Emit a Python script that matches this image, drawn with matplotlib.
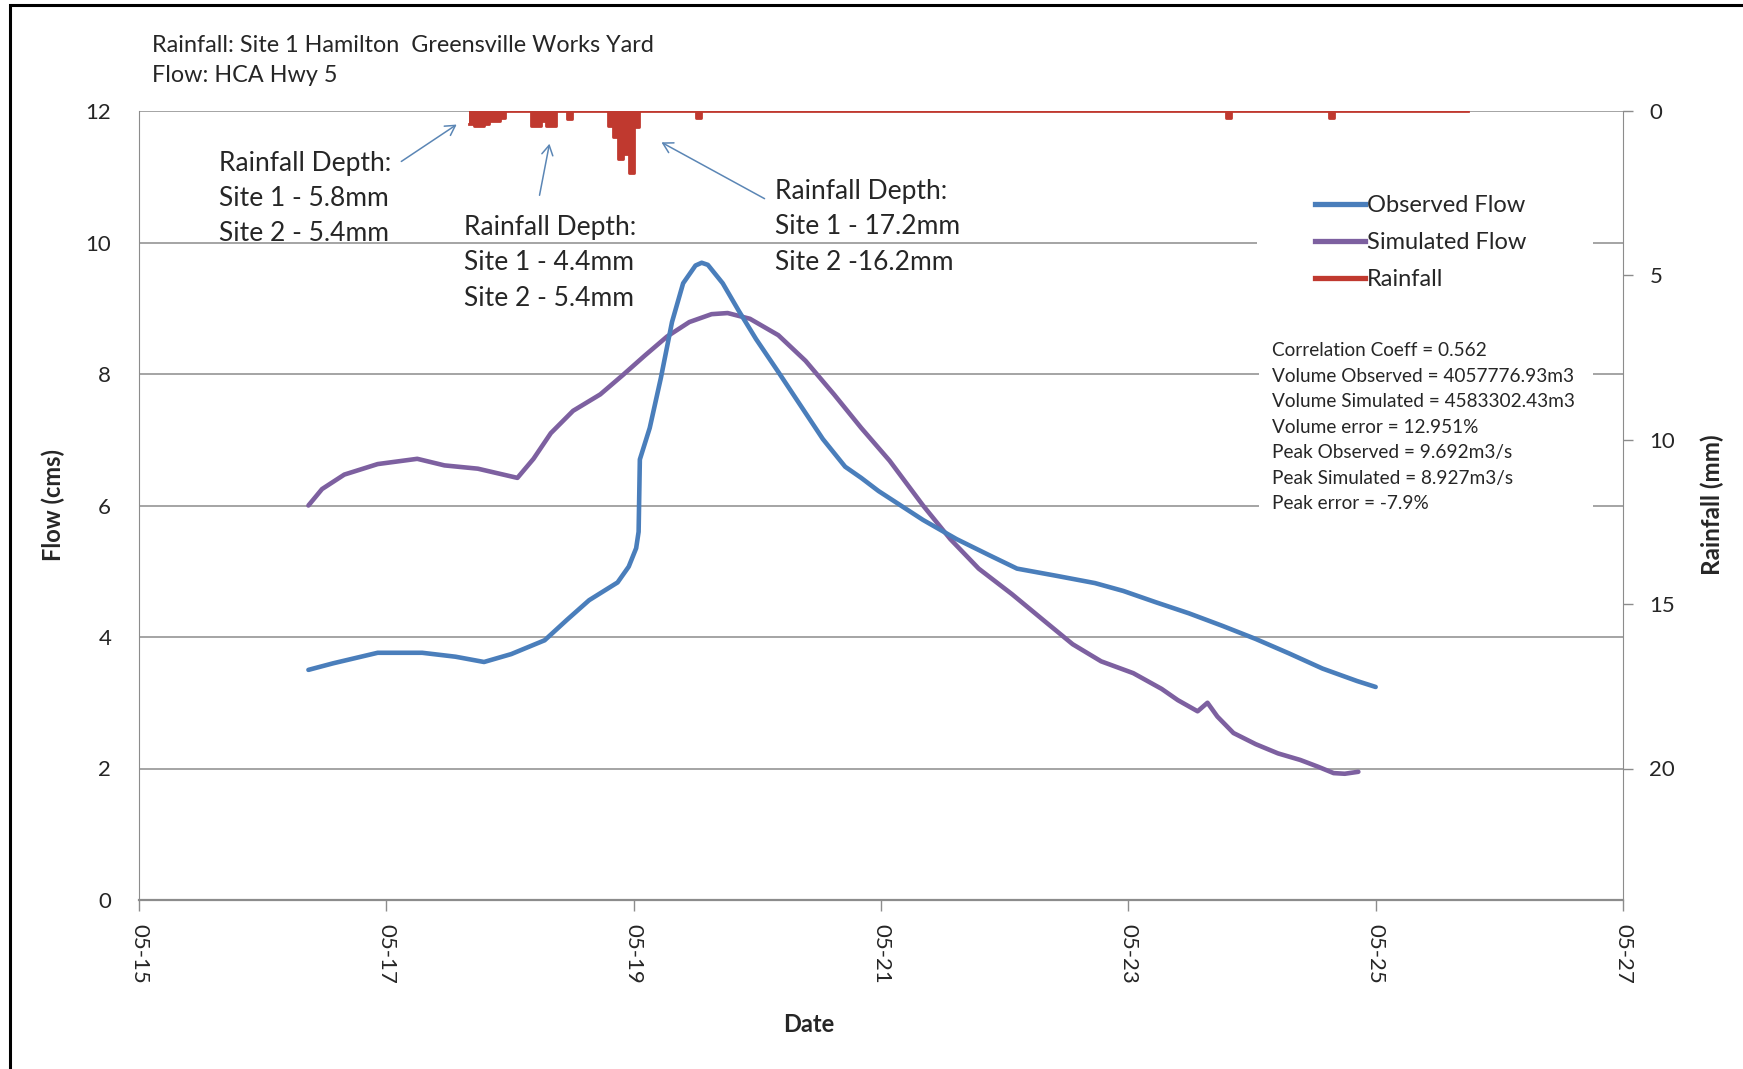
import matplotlib
matplotlib.use("Agg")
import matplotlib.pyplot as plt
from matplotlib.patches import Rectangle, FancyArrowPatch
from matplotlib.lines import Line2D
import numpy as np

plt.rcParams['font.family'] = ['Lato', 'DejaVu Sans']

# ---------------- data ----------------
# time axis: days after 05-15 00:00
obs_days = [1.37, 1.57, 1.93, 2.29, 2.56, 2.79, 3.01, 3.28, 3.46, 3.64, 3.87, 3.96,
            4.02, 4.04, 4.05, 4.13, 4.22, 4.31, 4.40, 4.50, 4.55, 4.60, 4.72, 4.85,
            4.99, 5.17, 5.35, 5.53, 5.71, 5.84, 5.98, 6.16, 6.34, 6.61, 6.88, 7.10,
            7.42, 7.73, 7.96, 8.22, 8.49, 8.76, 9.03, 9.30, 9.57, 9.85, 10.00]
obs_flow = [3.50, 3.60, 3.76, 3.76, 3.70, 3.62, 3.74, 3.95, 4.26, 4.56, 4.83, 5.07,
            5.35, 5.60, 6.70, 7.18, 7.94, 8.79, 9.38, 9.65, 9.692, 9.66, 9.38, 8.96,
            8.53, 8.03, 7.52, 7.01, 6.59, 6.42, 6.22, 6.00, 5.78, 5.49, 5.24, 5.04,
            4.93, 4.82, 4.70, 4.53, 4.36, 4.17, 3.97, 3.75, 3.52, 3.33, 3.24]

sim_days = [1.37, 1.48, 1.66, 1.93, 2.25, 2.47, 2.74, 3.06, 3.19, 3.33, 3.51, 3.73,
            3.91, 4.09, 4.27, 4.45, 4.63, 4.76, 4.94, 5.17, 5.39, 5.62, 5.84, 6.07,
            6.34, 6.56, 6.79, 7.06, 7.33, 7.55, 7.78, 8.04, 8.27, 8.40, 8.56, 8.64,
            8.72, 8.85, 9.03, 9.21, 9.39, 9.53, 9.66, 9.75, 9.86]
sim_flow = [6.00, 6.25, 6.47, 6.63, 6.71, 6.61, 6.56, 6.42, 6.71, 7.10, 7.44, 7.69,
            7.98, 8.28, 8.57, 8.79, 8.91, 8.927, 8.84, 8.59, 8.20, 7.69, 7.18, 6.68,
            6.00, 5.49, 5.04, 4.65, 4.23, 3.89, 3.63, 3.45, 3.21, 3.04, 2.87, 3.00,
            2.79, 2.54, 2.37, 2.23, 2.13, 2.03, 1.93, 1.92, 1.95]

# hourly rainfall record (hours after 05-15 00:00); hours not listed are dry
rain_first_hour = 64
rain_last_hour = 258
rain_hours = [64, 65, 66, 67, 68, 69, 70, 76, 77, 78, 79, 80, 83,
              91, 92, 93, 94, 95, 96, 108, 211, 231]
rain_mm = [0.40, 0.45, 0.45, 0.40, 0.30, 0.30, 0.20, 0.45, 0.45, 0.30, 0.45, 0.45, 0.25,
           0.45, 0.80, 1.45, 1.30, 1.90, 0.50, 0.20, 0.20, 0.20]

date_ticks = [0, 2, 4, 6, 8, 10, 12]
date_labels = ["05-15", "05-17", "05-19", "05-21", "05-23", "05-25", "05-27"]

title_lines = ["Rainfall: Site 1 Hamilton  Greensville Works Yard", "Flow: HCA Hwy 5"]
stats_lines = ["Correlation Coeff = 0.562",
               "Volume Observed = 4057776.93m3",
               "Volume Simulated = 4583302.43m3",
               "Volume error = 12.951%",
               "Peak Observed = 9.692m3/s",
               "Peak Simulated = 8.927m3/s",
               "Peak error = -7.9%"]
notes = [["Rainfall Depth:", "Site 1 - 5.8mm", "Site 2 - 5.4mm"],
         ["Rainfall Depth:", "Site 1 - 4.4mm", "Site 2 - 5.4mm"],
         ["Rainfall Depth:", "Site 1 - 17.2mm", "Site 2 -16.2mm"]]

# ---------------- styling ----------------
W, H = 1743, 1069
C_OBS = "#4A7EBB"
C_SIM = "#7D60A0"
C_RAIN = "#C0392F"
C_GRID = "#8C8C8C"
C_TXT = "#262626"
C_ARROW = "#5B86B5"


def fx(x):
    return x / W


def fy(y):
    return 1 - y / H


fig = plt.figure(figsize=(W / 100, H / 100), dpi=100)
fig.patch.set_facecolor("white")
ax = fig.add_axes([fx(139), fy(900), fx(1623) - fx(139), fy(111) - fy(900)])

# flow series
ax.plot(obs_days, obs_flow, color=C_OBS, lw=3.3, solid_capstyle="round",
        solid_joinstyle="round", zorder=4)
ax.plot(sim_days, sim_flow, color=C_SIM, lw=3.3, solid_capstyle="round",
        solid_joinstyle="round", zorder=3)

ax.set_xlim(0, 12)
ax.set_ylim(0, 12)
ax.set_yticks(range(0, 13, 2))
for v in range(2, 13, 2):
    ax.axhline(v, color=C_GRID, lw=1.1, zorder=1)
ax.set_xticks(date_ticks)
ax.set_xticklabels(date_labels, rotation=-90, fontsize=16, color=C_TXT)
ax.tick_params(axis="x", direction="out", length=8, width=1, color=C_GRID, pad=9)
ax.tick_params(axis="y", length=0, pad=20, labelsize=16, labelcolor=C_TXT)
for lab in ax.get_xticklabels():
    lab.set_verticalalignment("top")
    lab.set_horizontalalignment("center")
for side in ["top", "right"]:
    ax.spines[side].set_visible(False)
ax.spines["left"].set_color(C_GRID)
ax.spines["bottom"].set_color(C_GRID)
ax.spines["bottom"].set_linewidth(1.6)

# rainfall on inverted secondary axis
ax2 = ax.twinx()
hours = np.arange(rain_first_hour, rain_last_hour + 1)
rain = np.zeros(len(hours))
for h, d in zip(rain_hours, rain_mm):
    rain[h - rain_first_hour] = d
t_days = hours / 24.0
ax2.fill_between(t_days, 0, rain, step="post", color=C_RAIN, lw=0, zorder=2)
ax2.step(t_days, rain, where="post", color=C_RAIN, lw=2.0, zorder=3)
ax2.set_ylim(24, 0)
ax2.set_yticks([0, 5, 10, 15, 20])
ax2.tick_params(axis="y", direction="out", length=7, width=1, color=C_GRID, pad=12,
                labelsize=16, labelcolor=C_TXT)
for side in ["top", "left", "bottom"]:
    ax2.spines[side].set_visible(False)
ax2.spines["right"].set_color(C_GRID)
ax2.set_xlim(0, 12)

# axis titles
fig.text(fx(53), fy(505), "Flow (cms)", fontsize=17, fontweight="bold", color=C_TXT,
         rotation=90, ha="center", va="center")
fig.text(fx(1712), fy(505), "Rainfall (mm)", fontsize=17.5, fontweight="bold",
         color=C_TXT, rotation=90, ha="center", va="center")
fig.text(fx(809), fy(1025), "Date", fontsize=17, fontweight="bold", color=C_TXT,
         ha="center", va="center")

# white panels behind legend and statistics
for (x0, y0, x1, y1) in [(1257, 178, 1593, 302), (1259, 333, 1593, 517)]:
    ax2.add_patch(Rectangle((fx(x0), fy(y1)), fx(x1) - fx(x0), fy(y0) - fy(y1),
                            transform=fig.transFigure, facecolor="white",
                            edgecolor="none", zorder=5, clip_on=False))

handles = [Line2D([], [], color=C_OBS, lw=3.8),
           Line2D([], [], color=C_SIM, lw=3.8),
           Line2D([], [], color=C_RAIN, lw=3.8)]
leg = ax2.legend(handles, ["Observed Flow", "Simulated Flow", "Rainfall"],
                 loc="upper left", bbox_to_anchor=(fx(1315), fy(195)),
                 bbox_transform=fig.transFigure, frameon=False, fontsize=17,
                 handlelength=2.1, handletextpad=0.1, labelspacing=0.68,
                 borderpad=0, borderaxespad=0)
leg.set_zorder(6)
for t in leg.get_texts():
    t.set_color(C_TXT)

# statistics block
for i, line in enumerate(stats_lines):
    fig.text(fx(1272), fy(351 + 25.4 * i), line, fontsize=13.7, color=C_TXT,
             ha="left", va="center", zorder=7)

# header
for i, line in enumerate(title_lines):
    fig.text(fx(152), fy(45 + 31 * i), line, fontsize=16.8, color=C_TXT,
             ha="left", va="center")

# rainfall depth call-outs
note_pos = [(219, 163), (464, 228), (775, 192)]
for (x0, y0), lines in zip(note_pos, notes):
    for i, line in enumerate(lines):
        fig.text(fx(x0), fy(y0 + 35 * i), line, fontsize=19, color=C_TXT,
                 ha="left", va="center")

arrows = [((399, 163), (459, 123)), ((539, 198), (550, 141)), ((767, 200), (659, 141))]
for (xs, ys), (xe, ye) in arrows:
    fig.add_artist(FancyArrowPatch(
        (fx(xs), fy(ys)), (fx(xe), fy(ye)), transform=fig.transFigure,
        arrowstyle="->,head_length=7,head_width=4", color=C_ARROW, lw=1.1))

# outer frame of the chart area
fig.add_artist(Rectangle((fx(10), -0.5), 2.0, fy(5) + 0.5, transform=fig.transFigure,
                         facecolor="none", edgecolor="black", lw=2.2))

fig.savefig("out.png", dpi=100, facecolor="white")
